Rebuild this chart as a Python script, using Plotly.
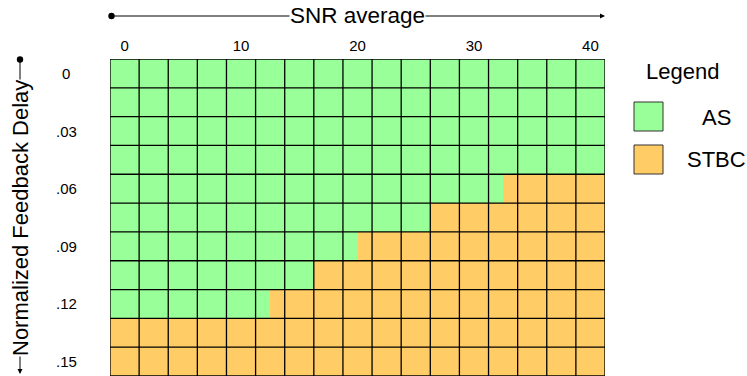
import plotly.graph_objects as go

# SNR grid (dB) and normalized feedback delay grid
snr_values = [0, 2.5, 5, 7.5, 10, 12.5, 15, 17.5, 20, 22.5, 25, 27.5, 30, 32.5, 35, 37.5, 40]
delay_values = [0, 0.015, 0.03, 0.045, 0.06, 0.075, 0.09, 0.105, 0.12, 0.135, 0.15]

# SNR up to which AS beats STBC for each delay (inf: AS everywhere, -inf: STBC everywhere)
as_crossover_snr = [float("inf"), float("inf"), float("inf"), float("inf"),
                    32.5, 26.25, 20.0, 16.25, 12.5, float("-inf"), float("-inf")]

x_tick_vals = [0, 10, 20, 30, 40]
x_tick_text = ["0", "10", "20", "30", "40"]
y_tick_vals = [0, 0.03, 0.06, 0.09, 0.12, 0.15]
y_tick_text = ["0", ".03", ".06", ".09", ".12", ".15"]

series_names = ["AS", "STBC"]
series_colors = ["#99ff99", "#ffcc66"]

FONT = "Liberation Sans, Arial, sans-serif"

dx = snr_values[1] - snr_values[0]
dy = delay_values[1] - delay_values[0]
x_lo, x_hi = snr_values[0] - dx / 2, snr_values[-1] + dx / 2
y_lo, y_hi = delay_values[0] - dy / 2, delay_values[-1] + dy / 2

split = [min(max(c, x_lo), x_hi) for c in as_crossover_snr]

fig = go.Figure()
fig.add_trace(go.Bar(
    orientation="h", y=delay_values, base=[x_lo] * len(split),
    x=[s - x_lo for s in split], width=dy, name=series_names[0],
    marker=dict(color=series_colors[0], line=dict(width=0)),
))
fig.add_trace(go.Bar(
    orientation="h", y=delay_values, base=split,
    x=[x_hi - s for s in split], width=dy, name=series_names[1],
    marker=dict(color=series_colors[1], line=dict(width=0)),
))

# cell grid
shapes = []
for i in range(len(snr_values) + 1):
    xv = x_lo + i * dx
    shapes.append(dict(type="line", xref="x", yref="y", x0=xv, x1=xv, y0=y_lo, y1=y_hi,
                       line=dict(color="black", width=1.3), layer="above"))
for j in range(len(delay_values) + 1):
    yv = y_lo + j * dy
    shapes.append(dict(type="line", xref="x", yref="y", x0=x_lo, x1=x_hi, y0=yv, y1=yv,
                       line=dict(color="black", width=1.3), layer="above"))

W, H = 747, 376
L, R, T, B = 110, 142, 59, 0
pw, ph = W - L - R, H - T - B


def px(x):
    return (x - L) / pw


def py(y):
    return 1 - (y - T) / ph


def label(x, y, text, size, **kw):
    d = dict(xref="paper", yref="paper", x=x, y=y, text=text, showarrow=False,
             xanchor="center", yanchor="middle",
             font=dict(family=FONT, size=size, color="black"))
    d.update(kw)
    return d


annotations = []

# axis titles with arrows
annotations.append(dict(xref="paper", yref="paper", x=px(605), y=py(16), ax=-495, ay=0,
                        axref="pixel", ayref="pixel", text="", showarrow=True,
                        arrowside="end+start", arrowhead=2, startarrowhead=6,
                        arrowsize=1, startarrowsize=1.6, arrowwidth=1, arrowcolor="black"))
annotations.append(label(px(357), py(16), "SNR average", 22.5, bgcolor="white", borderpad=0))
annotations.append(dict(xref="paper", yref="paper", x=px(20), y=py(374), ax=0, ay=-316,
                        axref="pixel", ayref="pixel", text="", showarrow=True,
                        arrowside="end+start", arrowhead=2, startarrowhead=6,
                        arrowsize=1, startarrowsize=1.6, arrowwidth=1, arrowcolor="black"))
annotations.append(label(px(20), py(218), "Normalized Feedback Delay", 22, textangle=-90,
                         bgcolor="white", borderpad=0))

# delay tick labels, centred in the left margin
for v, t in zip(y_tick_vals, y_tick_text):
    annotations.append(dict(xref="paper", yref="y", x=px(66), y=v, text=t, showarrow=False,
                            xanchor="center", yanchor="middle",
                            font=dict(family=FONT, size=15, color="black")))

# legend
annotations.append(label(px(682), py(72), "Legend", 22))
legend_rows = [(102, 131, 117), (145, 174, 159)]
for (y0, y1, yc), name, color in zip(legend_rows, series_names, series_colors):
    shapes.append(dict(type="rect", xref="paper", yref="paper", x0=px(634), x1=px(663),
                       y0=py(y1), y1=py(y0), fillcolor=color,
                       line=dict(color="#333333", width=1)))
    annotations.append(label(px(716), py(yc), name, 22))

fig.update_layout(
    width=W, height=H, margin=dict(l=L, r=R, t=T, b=B, pad=0),
    paper_bgcolor="white", plot_bgcolor="white",
    barmode="overlay", bargap=0, showlegend=False,
    shapes=shapes, annotations=annotations,
    xaxis=dict(range=[x_lo, x_hi], side="top", tickvals=x_tick_vals, ticktext=x_tick_text,
               showgrid=False, zeroline=False, showline=False, ticks="",
               ticklabelstandoff=4,
               tickfont=dict(family=FONT, size=15, color="black")),
    yaxis=dict(range=[y_hi, y_lo], tickvals=y_tick_vals, showticklabels=False,
               showgrid=False, zeroline=False, showline=False, ticks=""),
)

fig.write_html("out.html")
